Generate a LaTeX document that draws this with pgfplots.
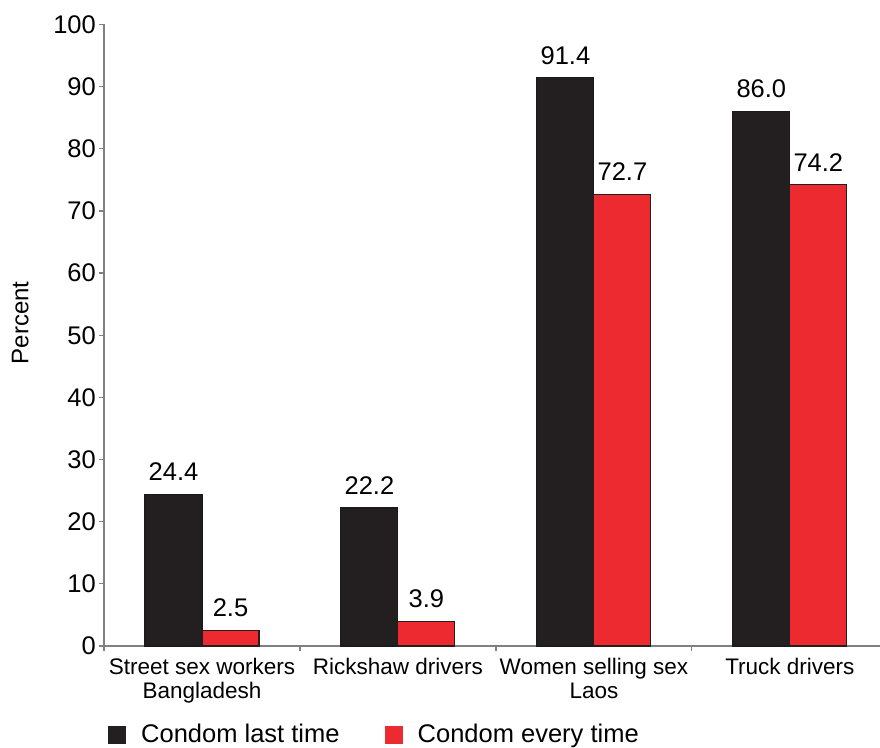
\documentclass[border=0pt]{standalone}
\usepackage{pgfplots}
\pgfplotsset{compat=1.18}
\usepackage{fontspec}
\setmainfont{Liberation Sans}
\definecolor{barblack}{HTML}{231F20}
\definecolor{barred}{HTML}{EC2A2F}
\definecolor{axisgray}{HTML}{808080}
\begin{document}
\begin{tikzpicture}[x=1pt,y=1pt]
\path[use as bounding box] (0,0) rectangle (880,747);
\begin{axis}[
  at={(104pt,101pt)}, anchor=south west,
  scale only axis, width=776pt, height=621.5pt,
  xmin=-0.5, xmax=3.46, ymin=0, ymax=100,
  ybar=0pt, bar width=57pt,
  axis x line*=bottom, axis y line*=left,
  axis line style={axisgray, line width=1.5pt, -},
  xtick={0,1,2,3},
  xticklabels={Street sex workers\\Bangladesh, Rickshaw drivers, Women selling sex\\Laos, Truck drivers},
  major x tick style={draw=none},
  minor xtick={-0.5,0.5,1.5,2.5},
  minor x tick style={axisgray, line width=1.2pt},
  minor tick length=5pt,
  ytick={0,10,...,100},
  major y tick style={axisgray, line width=1.2pt},
  major tick length=5pt,
  tick align=outside,
  /pgf/number format/assume math mode=true,
  yticklabel style={font=\fontsize{25.5}{28}\selectfont, inner sep=0pt, anchor=east, xshift=-3pt},
  xticklabel style={font=\fontsize{22.5}{23.5}\selectfont, align=center, inner sep=0pt, anchor=north, yshift=-7pt},
  ylabel={Percent},
  ylabel style={font=\fontsize{24}{26}\selectfont, at={(axis description cs:-0.108,0.52)}, anchor=center, rotate=0},
  nodes near coords={\pgfmathprintnumber[fixed,fixed zerofill,precision=1]{\pgfplotspointmeta}},
  every node near coord/.append style={font=\fontsize{25.5}{28}\selectfont, inner sep=0pt, anchor=south, yshift=13pt, text=black},
  legend columns=2,
  legend style={draw=none, fill=none, at={(axis description cs:0.005,-0.1256)}, anchor=north west,
    inner sep=0pt, font=\fontsize{25.5}{28}\selectfont, nodes={inner sep=0pt},
    /tikz/every odd column/.style={column sep=15pt},
    /tikz/every even column/.style={column sep=45pt}},
]
\addplot[fill=barblack, draw=barblack!80!black, line width=1.1pt,
  legend image code/.code={\fill[barblack] (0pt,-9pt) rectangle (17pt,8pt);}]
  coordinates {(0,24.4) (1,22.2) (2,91.4) (3,86.0)};
\addplot[fill=barred, draw=barblack, line width=1.1pt,
  legend image code/.code={\fill[barred] (0pt,-9pt) rectangle (17pt,8pt);}]
  coordinates {(0,2.5) (1,3.9) (2,72.7) (3,74.2)};
\legend{Condom last time, Condom every time}
\end{axis}
\end{tikzpicture}
\end{document}
